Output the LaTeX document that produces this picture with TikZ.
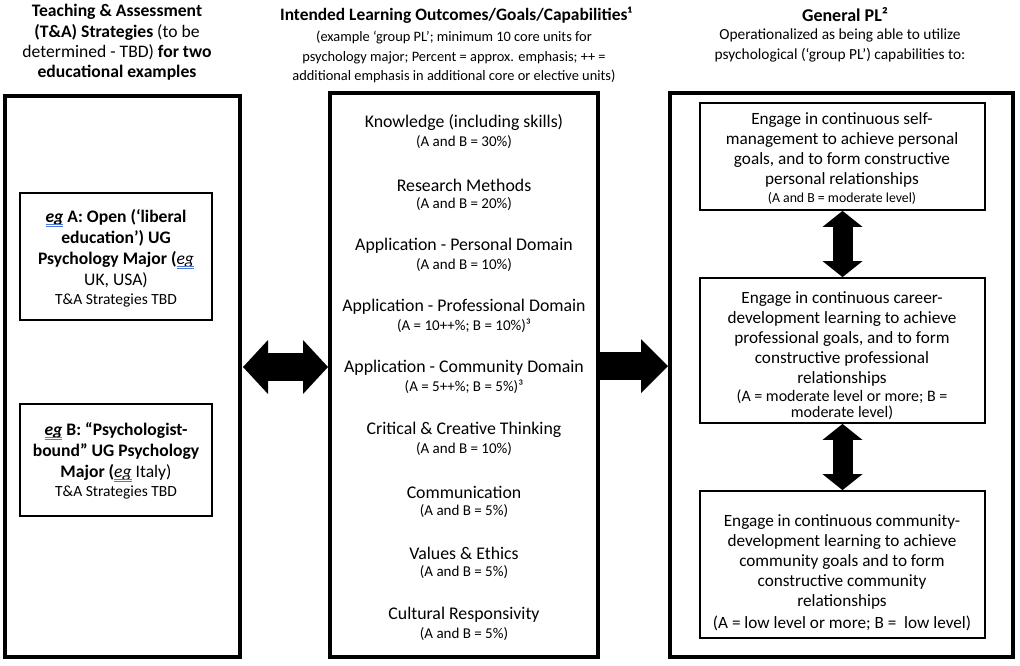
\documentclass[tikz,border=0pt]{standalone}
\usepackage{fontspec}
\setmainfont{Carlito}
\usetikzlibrary{arrows.meta,calc}
\definecolor{egblue}{RGB}{80,120,215}
\newsavebox\egbox
\newcommand{\egmark}{\sbox\egbox{\textit{eg}}\usebox\egbox\llap{\textcolor{egblue}{\rule[-2.4pt]{\wd\egbox}{0.55pt}}}\llap{\textcolor{egblue}{\rule[-3.9pt]{\wd\egbox}{0.55pt}}}}
\tikzset{
  txt/.style={align=center, inner sep=0pt},
  outerbox/.style={draw, line width=4pt, inner sep=0pt},
  innerbox/.style={draw, line width=1.8pt, inner sep=0pt},
  lheadfont/.style={font=\fontsize{17.6}{20.3}\selectfont},
  mheadfont/.style={font=\fontsize{17.4}{20}\selectfont},
  msubfont/.style={font=\fontsize{14.4}{19.7}\selectfont},
  rheadfont/.style={font=\fontsize{18}{20}\selectfont},
  rsubfont/.style={font=\fontsize{15.4}{20}\selectfont},
  itemfont/.style={font=\fontsize{17.8}{20}\selectfont},
  pctfont/.style={font=\fontsize{15}{17}\selectfont},
  boxfont/.style={font=\fontsize{17.2}{20}\selectfont},
  egfont/.style={font=\fontsize{17.6}{21}\selectfont},
  tbdfont/.style={font=\fontsize{15.5}{18}\selectfont},
  hdbl/.style={line width=28pt, {Triangle[length=25pt,width=54pt,line width=0pt]}-{Triangle[length=25pt,width=54pt,line width=0pt]}},
  hsgl/.style={line width=28pt, -{Triangle[length=27pt,width=54pt,line width=0pt]}},
  vdbl/.style={line width=20pt, {Triangle[length=16pt,width=40pt,line width=0pt]}-{Triangle[length=16pt,width=40pt,line width=0pt]}}
}
\begin{document}
\begin{tikzpicture}[x=1pt,y=-1pt]
\useasboundingbox (0,0) rectangle (1020,665);
% outer boxes
\node[outerbox, minimum width=235pt, minimum height=561pt] (L) at (122.5,376.5) {};
\node[outerbox, minimum width=268pt, minimum height=564pt] (M) at (464,375) {};
\node[outerbox, minimum width=343pt, minimum height=564pt] (R) at (841.5,375) {};
% left inner boxes
\node[innerbox, minimum width=192pt, minimum height=127pt] (A) at (116,256.5) {};
\node[innerbox, minimum width=192pt, minimum height=112pt] (B) at (116,460) {};
% right inner boxes
\node[innerbox, minimum width=285pt, minimum height=107pt] (R1) at (842.5,156.5) {};
\node[innerbox, minimum width=285pt, minimum height=145pt] (R2) at (842.5,350.5) {};
\node[innerbox, minimum width=285pt, minimum height=147pt] (R3) at (842.5,564.5) {};
% headers
\node[txt, lheadfont] (hL) at (117,42.5) {\textbf{Teaching \& Assessment}\\ \textbf{(T\&A) Strategies} (to be\\ determined - TBD) \textbf{for two}\\ \textbf{educational examples}};
\node[txt, mheadfont] (hM) at (456,15) {\textbf{Intended Learning Outcomes/Goals/Capabilities¹}};
\node[txt, msubfont] (hMs) at (454,57) {(example ‘group PL’; minimum 10 core units for\\ psychology major; Percent = approx. emphasis; ++ =\\ additional emphasis in additional core or elective units)};
\node[txt, rheadfont] (hR) at (845,15) {\textbf{General PL²}};
\node[txt, rsubfont] (hRs) at (840,45) {Operationalized as being able to utilize\\ psychological (‘group PL’) capabilities to:};
% left box texts
\node[txt, egfont] (tA) at (116,248.5) {\textbf{\egmark\ A: Open (‘liberal}\\ \textbf{education’) UG}\\ \textbf{Psychology Major (}\egmark\\ UK, USA)};
\node[txt, tbdfont] (tA2) at (116,300) {T\&A Strategies TBD};
\node[txt, egfont] (tB) at (116,452) {\textbf{\egmark\ B: “Psychologist-}\\ \textbf{bound” UG Psychology}\\ \textbf{Major (}\egmark\ Italy)};
\node[txt, tbdfont] (tB2) at (116,492) {T\&A Strategies TBD};
% middle items
\node[txt, itemfont] (m1) at (464,123) {Knowledge (including skills)};
\node[txt, pctfont] (p1) at (464,142.5) {(A and B = 30\%)};
\node[txt, itemfont] (m2) at (464,185) {Research Methods};
\node[txt, pctfont] (p2) at (464,204) {(A and B = 20\%)};
\node[txt, itemfont] (m3) at (464,246) {Application - Personal Domain};
\node[txt, pctfont] (p3) at (464,265) {(A and B = 10\%)};
\node[txt, itemfont] (m4) at (464,307) {Application - Professional Domain};
\node[txt, pctfont] (p4) at (464,326) {(A = 10++\%; B = 10\%)³};
\node[txt, itemfont] (m5) at (464,368) {Application - Community Domain};
\node[txt, pctfont] (p5) at (464,387) {(A = 5++\%; B = 5\%)³};
\node[txt, itemfont] (m6) at (464,430) {Critical \& Creative Thinking};
\node[txt, pctfont] (p6) at (464,449) {(A and B = 10\%)};
\node[txt, itemfont] (m7) at (464,492) {Communication};
\node[txt, pctfont] (p7) at (464,511) {(A and B = 5\%)};
\node[txt, itemfont] (m8) at (464,553) {Values \& Ethics};
\node[txt, pctfont] (p8) at (464,572) {(A and B = 5\%)};
\node[txt, itemfont] (m9) at (464,615) {Cultural Responsivity};
\node[txt, pctfont] (p9) at (464,634) {(A and B = 5\%)};
% right box texts
\node[txt, boxfont] (t1) at (842,150) {Engage in continuous self-\\ management to achieve personal\\ goals, and to form constructive\\ personal relationships};
\node[txt, font=\fontsize{13.8}{16.5}\selectfont] (t1s) at (842,198) {(A and B = moderate level)};
\node[txt, boxfont] (t2) at (842,339) {Engage in continuous career-\\ development learning to achieve\\ professional goals, and to form\\ constructive professional\\ relationships};
\node[txt, font=\fontsize{16}{16.5}\selectfont] (t2s) at (842,405) {(A = moderate level or more; B =\\ moderate level)};
\node[txt, boxfont] (t3) at (842,562) {Engage in continuous community-\\ development learning to achieve\\ community goals and to form\\ constructive community\\ relationships};
\node[txt, boxfont] (t3s) at (842,623) {(A = low level or more; B = \ low level)};
% arrows
\coordinate (ay) at (0,367);
\coordinate (by) at (0,366);
\draw[hdbl] ([xshift=1pt]L.east |- ay) -- (M.west |- ay);
\draw[hsgl] (M.east |- by) -- (R.west |- by);
\draw[vdbl] (R1.south) -- (R2.north);
\draw[vdbl] (R2.south) -- (R3.north);
\end{tikzpicture}
\end{document}
